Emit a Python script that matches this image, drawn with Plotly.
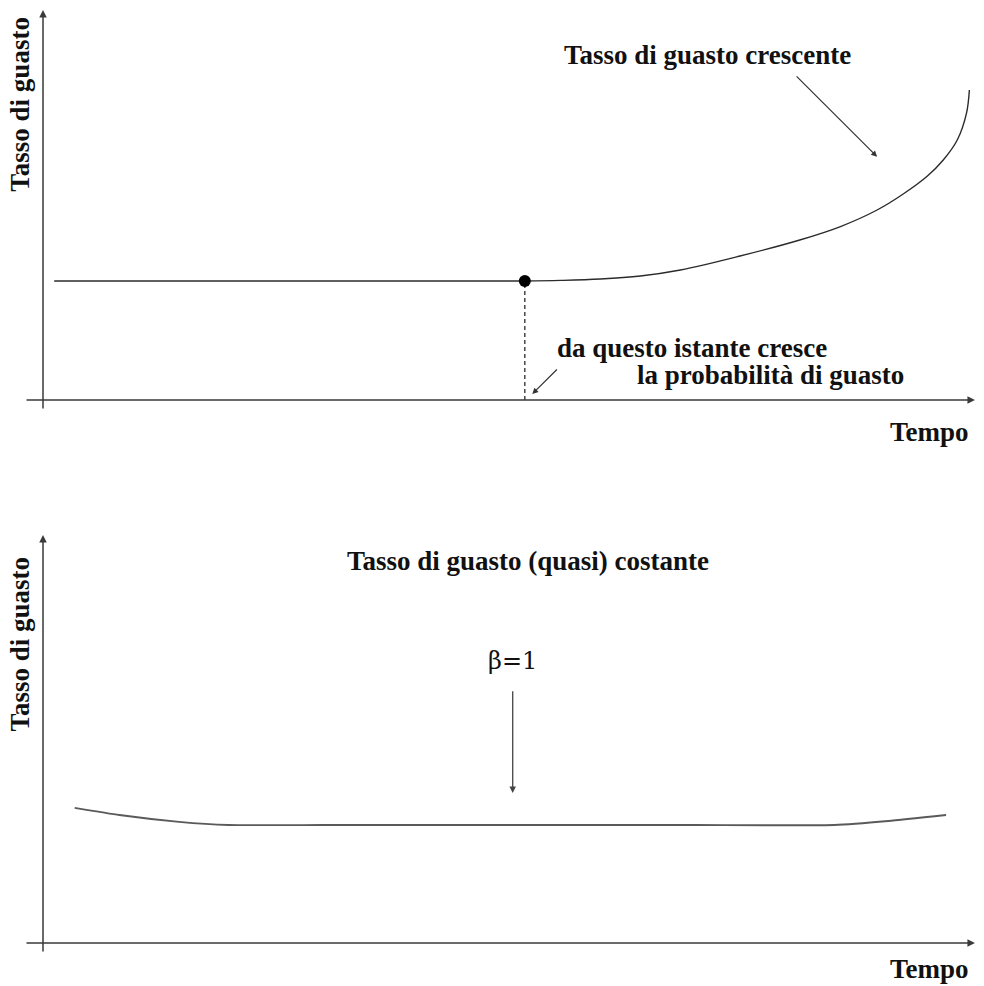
import plotly.graph_objects as go

# ---- data (time units 0..100, failure-rate units) ----
top_flat_t = [1.2, 51.7]
top_flat_v = [2.975, 2.975]
top_curve_t = [51.7, 55.5, 59.8, 64.1, 68.4, 74.8, 81.2, 85.5, 89.5, 92.3, 94.9, 96.6, 98.1, 99.1, 99.4]
top_curve_v = [2.975, 2.99, 3.025, 3.1, 3.25, 3.6, 4.0, 4.33, 4.75, 5.15, 5.6, 6.0, 6.5, 7.18, 7.75]
change_point_t = [51.7]
change_point_v = [2.975]

bottom_t = [3.4, 8.2, 14.6, 19.9, 30.0, 40.0, 50.0, 60.0, 70.0, 84.9, 90.7, 96.9]
bottom_v = [3.38, 3.2, 3.03, 2.95, 2.95, 2.95, 2.95, 2.95, 2.95, 2.95, 3.05, 3.2]

y_title = "Tasso di guasto"
x_title = "Tempo"
label_increasing = "Tasso di guasto crescente"
label_point_1 = "da questo istante cresce"
label_point_2 = "la probabilità di guasto"
label_constant = "Tasso di guasto (quasi) costante"
label_beta = "β=1"

LINE = "#2b2b2b"
AXC = "#3a3a3a"
FONT = dict(family="Liberation Serif, Times New Roman, serif", size=27, color="#111111")

fig = go.Figure()

# top panel
fig.add_trace(go.Scatter(x=top_flat_t, y=top_flat_v, mode="lines",
                         line=dict(color=LINE, width=1.4), xaxis="x", yaxis="y"))
fig.add_trace(go.Scatter(x=top_curve_t, y=top_curve_v, mode="lines",
                         line=dict(color=LINE, width=1.4, shape="spline", smoothing=1.0),
                         xaxis="x", yaxis="y"))
fig.add_trace(go.Scatter(x=[change_point_t[0], change_point_t[0]], y=[0, change_point_v[0]],
                         mode="lines", line=dict(color=LINE, width=1.3, dash="4px,3px"),
                         xaxis="x", yaxis="y"))
fig.add_trace(go.Scatter(x=change_point_t, y=change_point_v, mode="markers",
                         marker=dict(color="black", size=12), xaxis="x", yaxis="y"))

# bottom panel
fig.add_trace(go.Scatter(x=bottom_t, y=bottom_v, mode="lines",
                         line=dict(color="#5a5a5a", width=1.8, shape="spline", smoothing=0.5),
                         xaxis="x2", yaxis="y2"))

ann = []

def arrow(x, y, ax, ay, xr, yr, width=1.5, color=AXC, size=1.0):
    ann.append(dict(x=x, y=y, ax=ax, ay=ay, xref=xr, yref=yr, axref=xr, ayref=yr,
                    text="", showarrow=True, arrowhead=2, arrowsize=size,
                    arrowwidth=width, arrowcolor=color))

def text(x, y, s, xr, yr, xanchor="left", angle=0, font=FONT):
    ann.append(dict(x=x, y=y, xref=xr, yref=yr, text=s, showarrow=False,
                    xanchor=xanchor, yanchor="middle", textangle=angle, font=font))

BOLD = lambda s: "<b>" + s + "</b>"

# axes (top)
arrow(0, 9.75, 0, -0.25, "x", "y")
arrow(100, 0, -1.93, 0, "x", "y")
# axes (bottom)
arrow(0, 10.2, 0, -0.25, "x2", "y2")
arrow(100, 0, -1.93, 0, "x2", "y2")

# top annotations
arrow(89.5, 6.08, 80.7, 8.13, "x", "y", width=1.2, color="#333333")
arrow(52.5, 0.15, 55.3, 0.8, "x", "y", width=1.2, color="#333333")
text(55.7, 8.63, BOLD(label_increasing), "x", "y")
text(54.9, 1.3, BOLD(label_point_1), "x", "y")
text(63.5, 0.63, BOLD(label_point_2), "x", "y")
text(99.6, -0.8, BOLD(x_title), "x", "y", xanchor="right")
text(-2.5, 7.4, BOLD(y_title), "x", "y", xanchor="center", angle=-90)

# bottom annotations
text(52.0, 9.55, BOLD(label_constant), "x2", "y2", xanchor="center")
text(50.4, 7.05, label_beta, "x2", "y2", xanchor="center",
     font=dict(family="DejaVu Serif, serif", size=24, color="#111111"))
arrow(50.4, 3.75, 50.4, 6.33, "x2", "y2", width=1.3, color="#444444")
text(99.6, -0.65, BOLD(x_title), "x2", "y2", xanchor="right")
text(-2.5, 7.48, BOLD(y_title), "x2", "y2", xanchor="center", angle=-90)

hidden = dict(visible=False, showgrid=False, zeroline=False, fixedrange=True)
fig.update_layout(
    width=984, height=986,
    margin=dict(l=0, r=0, t=0, b=0),
    paper_bgcolor="white", plot_bgcolor="white",
    showlegend=False,
    xaxis=dict(domain=[0, 1], range=[-4.614, 100.97], anchor="y", **hidden),
    yaxis=dict(domain=[0.5, 1], range=[-2.325, 10.0], anchor="x", **hidden),
    xaxis2=dict(domain=[0, 1], range=[-4.614, 100.97], anchor="y2", **hidden),
    yaxis2=dict(domain=[0, 0.5], range=[-1.075, 11.25], anchor="x2", **hidden),
    annotations=ann,
)

fig.write_html("out.html", config={"displayModeBar": False},
               post_script="document.body.style.margin='0';document.body.style.overflow='hidden';")
